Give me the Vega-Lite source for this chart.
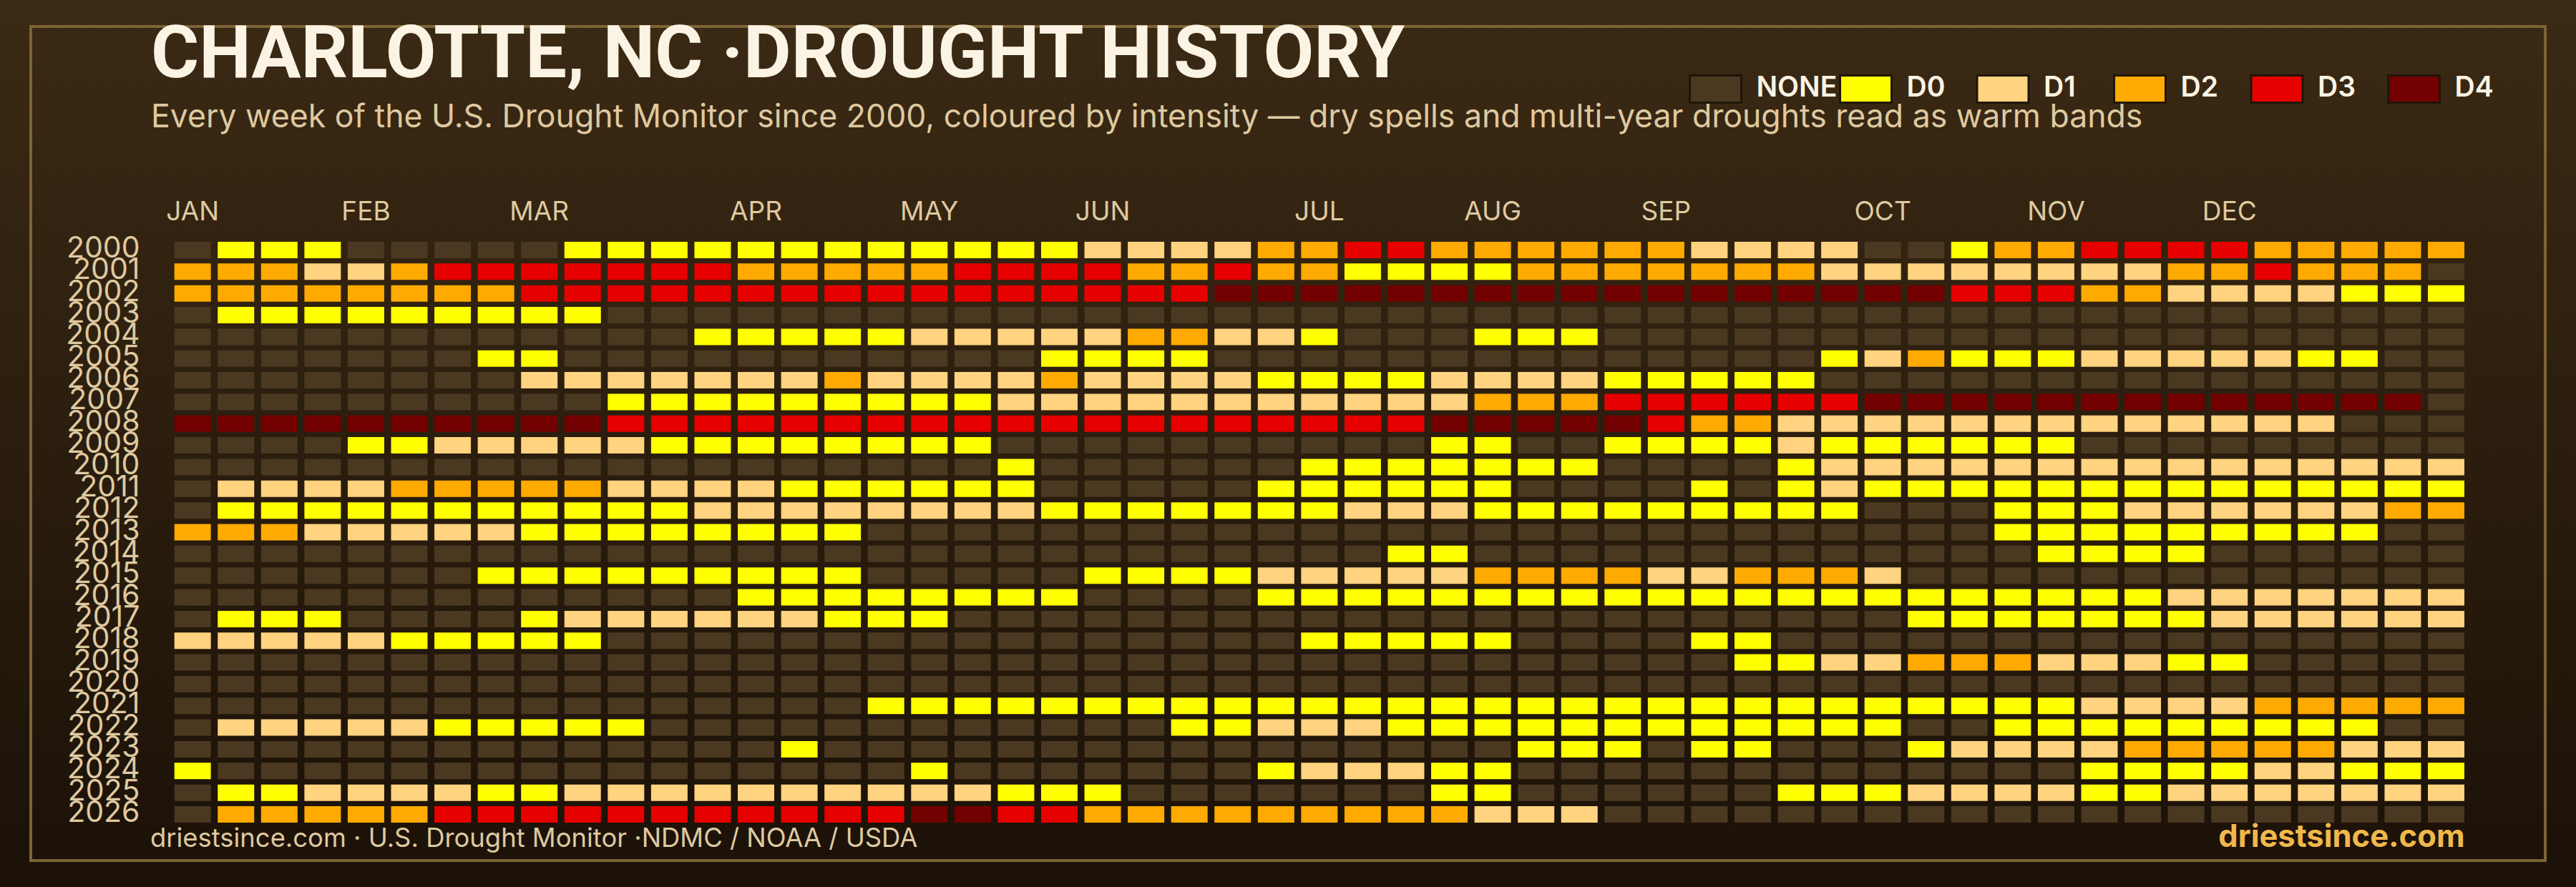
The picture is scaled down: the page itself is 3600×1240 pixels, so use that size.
{"$schema":"https://vega.github.io/schema/vega-lite/v6.json","width":3600,"height":1240,"padding":0,"autosize":{"type":"none"},"background":"#2a1d0e","view":{"stroke":null,"fill":{"gradient":"linear","x1":0,"y1":0,"x2":0,"y2":1,"stops":[{"offset":0,"color":"#3b2a14"},{"offset":1,"color":"#1b1108"}]}},"title":{"text":"CHARLOTTE, NC ·DROUGHT HISTORY","subtitle":"Every week of the U.S. Drought Monitor since 2000, coloured by intensity — dry spells and multi-year droughts read as warm bands","anchor":"start","frame":"group","dx":211,"offset":-188,"font":"Roboto","fontSize":102.7,"fontWeight":700,"color":"#fbf3e3","subtitleFont":"Inter","subtitleFontSize":44.6,"subtitleFontWeight":400,"subtitleColor":"#dfc9a0","subtitlePadding":14},"resolve":{"scale":{"x":"independent","y":"independent"}},"datasets":{"legendRows":[{"d":"NONE","i":0},{"d":"D0","i":1},{"d":"D1","i":2},{"d":"D2","i":3},{"d":"D3","i":4},{"d":"D4","i":5}]},"layer":[{"data":{"values":[{"part":"frame"}]},"mark":{"type":"rect","fill":null,"stroke":"#7d6434","strokeWidth":4},"encoding":{"x":{"datum":0,"type":"quantitative","scale":{"domain":[0,1],"range":[43,3557],"nice":false,"zero":false},"axis":null},"x2":{"datum":1},"y":{"datum":0,"type":"quantitative","scale":{"domain":[0,1],"range":[37,1203],"nice":false,"zero":false},"axis":null},"y2":{"datum":1}}},{"data":{"values":[
{"y":2000,"w":0,"d":"NONE"},{"y":2000,"w":1,"d":"D0"},{"y":2000,"w":2,"d":"D0"},{"y":2000,"w":3,"d":"D0"},{"y":2000,"w":4,"d":"NONE"},{"y":2000,"w":5,"d":"NONE"},{"y":2000,"w":6,"d":"NONE"},{"y":2000,"w":7,"d":"NONE"},{"y":2000,"w":8,"d":"NONE"},{"y":2000,"w":9,"d":"D0"},{"y":2000,"w":10,"d":"D0"},{"y":2000,"w":11,"d":"D0"},{"y":2000,"w":12,"d":"D0"},{"y":2000,"w":13,"d":"D0"},{"y":2000,"w":14,"d":"D0"},{"y":2000,"w":15,"d":"D0"},{"y":2000,"w":16,"d":"D0"},{"y":2000,"w":17,"d":"D0"},{"y":2000,"w":18,"d":"D0"},{"y":2000,"w":19,"d":"D0"},{"y":2000,"w":20,"d":"D0"},{"y":2000,"w":21,"d":"D1"},{"y":2000,"w":22,"d":"D1"},{"y":2000,"w":23,"d":"D1"},{"y":2000,"w":24,"d":"D1"},{"y":2000,"w":25,"d":"D2"},{"y":2000,"w":26,"d":"D2"},{"y":2000,"w":27,"d":"D3"},{"y":2000,"w":28,"d":"D3"},{"y":2000,"w":29,"d":"D2"},{"y":2000,"w":30,"d":"D2"},{"y":2000,"w":31,"d":"D2"},{"y":2000,"w":32,"d":"D2"},{"y":2000,"w":33,"d":"D2"},{"y":2000,"w":34,"d":"D2"},{"y":2000,"w":35,"d":"D1"},{"y":2000,"w":36,"d":"D1"},{"y":2000,"w":37,"d":"D1"},{"y":2000,"w":38,"d":"D1"},{"y":2000,"w":39,"d":"NONE"},{"y":2000,"w":40,"d":"NONE"},{"y":2000,"w":41,"d":"D0"},{"y":2000,"w":42,"d":"D2"},{"y":2000,"w":43,"d":"D2"},{"y":2000,"w":44,"d":"D3"},{"y":2000,"w":45,"d":"D3"},{"y":2000,"w":46,"d":"D3"},{"y":2000,"w":47,"d":"D3"},{"y":2000,"w":48,"d":"D2"},{"y":2000,"w":49,"d":"D2"},{"y":2000,"w":50,"d":"D2"},{"y":2000,"w":51,"d":"D2"},{"y":2000,"w":52,"d":"D2"},
{"y":2001,"w":0,"d":"D2"},{"y":2001,"w":1,"d":"D2"},{"y":2001,"w":2,"d":"D2"},{"y":2001,"w":3,"d":"D1"},{"y":2001,"w":4,"d":"D1"},{"y":2001,"w":5,"d":"D2"},{"y":2001,"w":6,"d":"D3"},{"y":2001,"w":7,"d":"D3"},{"y":2001,"w":8,"d":"D3"},{"y":2001,"w":9,"d":"D3"},{"y":2001,"w":10,"d":"D3"},{"y":2001,"w":11,"d":"D3"},{"y":2001,"w":12,"d":"D3"},{"y":2001,"w":13,"d":"D2"},{"y":2001,"w":14,"d":"D2"},{"y":2001,"w":15,"d":"D2"},{"y":2001,"w":16,"d":"D2"},{"y":2001,"w":17,"d":"D2"},{"y":2001,"w":18,"d":"D3"},{"y":2001,"w":19,"d":"D3"},{"y":2001,"w":20,"d":"D3"},{"y":2001,"w":21,"d":"D3"},{"y":2001,"w":22,"d":"D2"},{"y":2001,"w":23,"d":"D2"},{"y":2001,"w":24,"d":"D3"},{"y":2001,"w":25,"d":"D2"},{"y":2001,"w":26,"d":"D2"},{"y":2001,"w":27,"d":"D0"},{"y":2001,"w":28,"d":"D0"},{"y":2001,"w":29,"d":"D0"},{"y":2001,"w":30,"d":"D0"},{"y":2001,"w":31,"d":"D2"},{"y":2001,"w":32,"d":"D2"},{"y":2001,"w":33,"d":"D2"},{"y":2001,"w":34,"d":"D2"},{"y":2001,"w":35,"d":"D2"},{"y":2001,"w":36,"d":"D2"},{"y":2001,"w":37,"d":"D2"},{"y":2001,"w":38,"d":"D1"},{"y":2001,"w":39,"d":"D1"},{"y":2001,"w":40,"d":"D1"},{"y":2001,"w":41,"d":"D1"},{"y":2001,"w":42,"d":"D1"},{"y":2001,"w":43,"d":"D1"},{"y":2001,"w":44,"d":"D1"},{"y":2001,"w":45,"d":"D1"},{"y":2001,"w":46,"d":"D2"},{"y":2001,"w":47,"d":"D2"},{"y":2001,"w":48,"d":"D3"},{"y":2001,"w":49,"d":"D2"},{"y":2001,"w":50,"d":"D2"},{"y":2001,"w":51,"d":"D2"},{"y":2001,"w":52,"d":"NONE"},
{"y":2002,"w":0,"d":"D2"},{"y":2002,"w":1,"d":"D2"},{"y":2002,"w":2,"d":"D2"},{"y":2002,"w":3,"d":"D2"},{"y":2002,"w":4,"d":"D2"},{"y":2002,"w":5,"d":"D2"},{"y":2002,"w":6,"d":"D2"},{"y":2002,"w":7,"d":"D2"},{"y":2002,"w":8,"d":"D3"},{"y":2002,"w":9,"d":"D3"},{"y":2002,"w":10,"d":"D3"},{"y":2002,"w":11,"d":"D3"},{"y":2002,"w":12,"d":"D3"},{"y":2002,"w":13,"d":"D3"},{"y":2002,"w":14,"d":"D3"},{"y":2002,"w":15,"d":"D3"},{"y":2002,"w":16,"d":"D3"},{"y":2002,"w":17,"d":"D3"},{"y":2002,"w":18,"d":"D3"},{"y":2002,"w":19,"d":"D3"},{"y":2002,"w":20,"d":"D3"},{"y":2002,"w":21,"d":"D3"},{"y":2002,"w":22,"d":"D3"},{"y":2002,"w":23,"d":"D3"},{"y":2002,"w":24,"d":"D4"},{"y":2002,"w":25,"d":"D4"},{"y":2002,"w":26,"d":"D4"},{"y":2002,"w":27,"d":"D4"},{"y":2002,"w":28,"d":"D4"},{"y":2002,"w":29,"d":"D4"},{"y":2002,"w":30,"d":"D4"},{"y":2002,"w":31,"d":"D4"},{"y":2002,"w":32,"d":"D4"},{"y":2002,"w":33,"d":"D4"},{"y":2002,"w":34,"d":"D4"},{"y":2002,"w":35,"d":"D4"},{"y":2002,"w":36,"d":"D4"},{"y":2002,"w":37,"d":"D4"},{"y":2002,"w":38,"d":"D4"},{"y":2002,"w":39,"d":"D4"},{"y":2002,"w":40,"d":"D4"},{"y":2002,"w":41,"d":"D3"},{"y":2002,"w":42,"d":"D3"},{"y":2002,"w":43,"d":"D3"},{"y":2002,"w":44,"d":"D2"},{"y":2002,"w":45,"d":"D2"},{"y":2002,"w":46,"d":"D1"},{"y":2002,"w":47,"d":"D1"},{"y":2002,"w":48,"d":"D1"},{"y":2002,"w":49,"d":"D1"},{"y":2002,"w":50,"d":"D0"},{"y":2002,"w":51,"d":"D0"},{"y":2002,"w":52,"d":"D0"},
{"y":2003,"w":0,"d":"NONE"},{"y":2003,"w":1,"d":"D0"},{"y":2003,"w":2,"d":"D0"},{"y":2003,"w":3,"d":"D0"},{"y":2003,"w":4,"d":"D0"},{"y":2003,"w":5,"d":"D0"},{"y":2003,"w":6,"d":"D0"},{"y":2003,"w":7,"d":"D0"},{"y":2003,"w":8,"d":"D0"},{"y":2003,"w":9,"d":"D0"},{"y":2003,"w":10,"d":"NONE"},{"y":2003,"w":11,"d":"NONE"},{"y":2003,"w":12,"d":"NONE"},{"y":2003,"w":13,"d":"NONE"},{"y":2003,"w":14,"d":"NONE"},{"y":2003,"w":15,"d":"NONE"},{"y":2003,"w":16,"d":"NONE"},{"y":2003,"w":17,"d":"NONE"},{"y":2003,"w":18,"d":"NONE"},{"y":2003,"w":19,"d":"NONE"},{"y":2003,"w":20,"d":"NONE"},{"y":2003,"w":21,"d":"NONE"},{"y":2003,"w":22,"d":"NONE"},{"y":2003,"w":23,"d":"NONE"},{"y":2003,"w":24,"d":"NONE"},{"y":2003,"w":25,"d":"NONE"},{"y":2003,"w":26,"d":"NONE"},{"y":2003,"w":27,"d":"NONE"},{"y":2003,"w":28,"d":"NONE"},{"y":2003,"w":29,"d":"NONE"},{"y":2003,"w":30,"d":"NONE"},{"y":2003,"w":31,"d":"NONE"},{"y":2003,"w":32,"d":"NONE"},{"y":2003,"w":33,"d":"NONE"},{"y":2003,"w":34,"d":"NONE"},{"y":2003,"w":35,"d":"NONE"},{"y":2003,"w":36,"d":"NONE"},{"y":2003,"w":37,"d":"NONE"},{"y":2003,"w":38,"d":"NONE"},{"y":2003,"w":39,"d":"NONE"},{"y":2003,"w":40,"d":"NONE"},{"y":2003,"w":41,"d":"NONE"},{"y":2003,"w":42,"d":"NONE"},{"y":2003,"w":43,"d":"NONE"},{"y":2003,"w":44,"d":"NONE"},{"y":2003,"w":45,"d":"NONE"},{"y":2003,"w":46,"d":"NONE"},{"y":2003,"w":47,"d":"NONE"},{"y":2003,"w":48,"d":"NONE"},{"y":2003,"w":49,"d":"NONE"},{"y":2003,"w":50,"d":"NONE"},{"y":2003,"w":51,"d":"NONE"},{"y":2003,"w":52,"d":"NONE"},
{"y":2004,"w":0,"d":"NONE"},{"y":2004,"w":1,"d":"NONE"},{"y":2004,"w":2,"d":"NONE"},{"y":2004,"w":3,"d":"NONE"},{"y":2004,"w":4,"d":"NONE"},{"y":2004,"w":5,"d":"NONE"},{"y":2004,"w":6,"d":"NONE"},{"y":2004,"w":7,"d":"NONE"},{"y":2004,"w":8,"d":"NONE"},{"y":2004,"w":9,"d":"NONE"},{"y":2004,"w":10,"d":"NONE"},{"y":2004,"w":11,"d":"NONE"},{"y":2004,"w":12,"d":"D0"},{"y":2004,"w":13,"d":"D0"},{"y":2004,"w":14,"d":"D0"},{"y":2004,"w":15,"d":"D0"},{"y":2004,"w":16,"d":"D0"},{"y":2004,"w":17,"d":"D1"},{"y":2004,"w":18,"d":"D1"},{"y":2004,"w":19,"d":"D1"},{"y":2004,"w":20,"d":"D1"},{"y":2004,"w":21,"d":"D1"},{"y":2004,"w":22,"d":"D2"},{"y":2004,"w":23,"d":"D2"},{"y":2004,"w":24,"d":"D1"},{"y":2004,"w":25,"d":"D1"},{"y":2004,"w":26,"d":"D0"},{"y":2004,"w":27,"d":"NONE"},{"y":2004,"w":28,"d":"NONE"},{"y":2004,"w":29,"d":"NONE"},{"y":2004,"w":30,"d":"D0"},{"y":2004,"w":31,"d":"D0"},{"y":2004,"w":32,"d":"D0"},{"y":2004,"w":33,"d":"NONE"},{"y":2004,"w":34,"d":"NONE"},{"y":2004,"w":35,"d":"NONE"},{"y":2004,"w":36,"d":"NONE"},{"y":2004,"w":37,"d":"NONE"},{"y":2004,"w":38,"d":"NONE"},{"y":2004,"w":39,"d":"NONE"},{"y":2004,"w":40,"d":"NONE"},{"y":2004,"w":41,"d":"NONE"},{"y":2004,"w":42,"d":"NONE"},{"y":2004,"w":43,"d":"NONE"},{"y":2004,"w":44,"d":"NONE"},{"y":2004,"w":45,"d":"NONE"},{"y":2004,"w":46,"d":"NONE"},{"y":2004,"w":47,"d":"NONE"},{"y":2004,"w":48,"d":"NONE"},{"y":2004,"w":49,"d":"NONE"},{"y":2004,"w":50,"d":"NONE"},{"y":2004,"w":51,"d":"NONE"},{"y":2004,"w":52,"d":"NONE"},
{"y":2005,"w":0,"d":"NONE"},{"y":2005,"w":1,"d":"NONE"},{"y":2005,"w":2,"d":"NONE"},{"y":2005,"w":3,"d":"NONE"},{"y":2005,"w":4,"d":"NONE"},{"y":2005,"w":5,"d":"NONE"},{"y":2005,"w":6,"d":"NONE"},{"y":2005,"w":7,"d":"D0"},{"y":2005,"w":8,"d":"D0"},{"y":2005,"w":9,"d":"NONE"},{"y":2005,"w":10,"d":"NONE"},{"y":2005,"w":11,"d":"NONE"},{"y":2005,"w":12,"d":"NONE"},{"y":2005,"w":13,"d":"NONE"},{"y":2005,"w":14,"d":"NONE"},{"y":2005,"w":15,"d":"NONE"},{"y":2005,"w":16,"d":"NONE"},{"y":2005,"w":17,"d":"NONE"},{"y":2005,"w":18,"d":"NONE"},{"y":2005,"w":19,"d":"NONE"},{"y":2005,"w":20,"d":"D0"},{"y":2005,"w":21,"d":"D0"},{"y":2005,"w":22,"d":"D0"},{"y":2005,"w":23,"d":"D0"},{"y":2005,"w":24,"d":"NONE"},{"y":2005,"w":25,"d":"NONE"},{"y":2005,"w":26,"d":"NONE"},{"y":2005,"w":27,"d":"NONE"},{"y":2005,"w":28,"d":"NONE"},{"y":2005,"w":29,"d":"NONE"},{"y":2005,"w":30,"d":"NONE"},{"y":2005,"w":31,"d":"NONE"},{"y":2005,"w":32,"d":"NONE"},{"y":2005,"w":33,"d":"NONE"},{"y":2005,"w":34,"d":"NONE"},{"y":2005,"w":35,"d":"NONE"},{"y":2005,"w":36,"d":"NONE"},{"y":2005,"w":37,"d":"NONE"},{"y":2005,"w":38,"d":"D0"},{"y":2005,"w":39,"d":"D1"},{"y":2005,"w":40,"d":"D2"},{"y":2005,"w":41,"d":"D0"},{"y":2005,"w":42,"d":"D0"},{"y":2005,"w":43,"d":"D0"},{"y":2005,"w":44,"d":"D1"},{"y":2005,"w":45,"d":"D1"},{"y":2005,"w":46,"d":"D1"},{"y":2005,"w":47,"d":"D1"},{"y":2005,"w":48,"d":"D1"},{"y":2005,"w":49,"d":"D0"},{"y":2005,"w":50,"d":"D0"},{"y":2005,"w":51,"d":"NONE"},{"y":2005,"w":52,"d":"NONE"},
{"y":2006,"w":0,"d":"NONE"},{"y":2006,"w":1,"d":"NONE"},{"y":2006,"w":2,"d":"NONE"},{"y":2006,"w":3,"d":"NONE"},{"y":2006,"w":4,"d":"NONE"},{"y":2006,"w":5,"d":"NONE"},{"y":2006,"w":6,"d":"NONE"},{"y":2006,"w":7,"d":"NONE"},{"y":2006,"w":8,"d":"D1"},{"y":2006,"w":9,"d":"D1"},{"y":2006,"w":10,"d":"D1"},{"y":2006,"w":11,"d":"D1"},{"y":2006,"w":12,"d":"D1"},{"y":2006,"w":13,"d":"D1"},{"y":2006,"w":14,"d":"D1"},{"y":2006,"w":15,"d":"D2"},{"y":2006,"w":16,"d":"D1"},{"y":2006,"w":17,"d":"D1"},{"y":2006,"w":18,"d":"D1"},{"y":2006,"w":19,"d":"D1"},{"y":2006,"w":20,"d":"D2"},{"y":2006,"w":21,"d":"D1"},{"y":2006,"w":22,"d":"D1"},{"y":2006,"w":23,"d":"D1"},{"y":2006,"w":24,"d":"D1"},{"y":2006,"w":25,"d":"D0"},{"y":2006,"w":26,"d":"D0"},{"y":2006,"w":27,"d":"D0"},{"y":2006,"w":28,"d":"D0"},{"y":2006,"w":29,"d":"D1"},{"y":2006,"w":30,"d":"D1"},{"y":2006,"w":31,"d":"D1"},{"y":2006,"w":32,"d":"D1"},{"y":2006,"w":33,"d":"D0"},{"y":2006,"w":34,"d":"D0"},{"y":2006,"w":35,"d":"D0"},{"y":2006,"w":36,"d":"D0"},{"y":2006,"w":37,"d":"D0"},{"y":2006,"w":38,"d":"NONE"},{"y":2006,"w":39,"d":"NONE"},{"y":2006,"w":40,"d":"NONE"},{"y":2006,"w":41,"d":"NONE"},{"y":2006,"w":42,"d":"NONE"},{"y":2006,"w":43,"d":"NONE"},{"y":2006,"w":44,"d":"NONE"},{"y":2006,"w":45,"d":"NONE"},{"y":2006,"w":46,"d":"NONE"},{"y":2006,"w":47,"d":"NONE"},{"y":2006,"w":48,"d":"NONE"},{"y":2006,"w":49,"d":"NONE"},{"y":2006,"w":50,"d":"NONE"},{"y":2006,"w":51,"d":"NONE"},{"y":2006,"w":52,"d":"NONE"},
{"y":2007,"w":0,"d":"NONE"},{"y":2007,"w":1,"d":"NONE"},{"y":2007,"w":2,"d":"NONE"},{"y":2007,"w":3,"d":"NONE"},{"y":2007,"w":4,"d":"NONE"},{"y":2007,"w":5,"d":"NONE"},{"y":2007,"w":6,"d":"NONE"},{"y":2007,"w":7,"d":"NONE"},{"y":2007,"w":8,"d":"NONE"},{"y":2007,"w":9,"d":"NONE"},{"y":2007,"w":10,"d":"D0"},{"y":2007,"w":11,"d":"D0"},{"y":2007,"w":12,"d":"D0"},{"y":2007,"w":13,"d":"D0"},{"y":2007,"w":14,"d":"D0"},{"y":2007,"w":15,"d":"D0"},{"y":2007,"w":16,"d":"D0"},{"y":2007,"w":17,"d":"D0"},{"y":2007,"w":18,"d":"D0"},{"y":2007,"w":19,"d":"D1"},{"y":2007,"w":20,"d":"D1"},{"y":2007,"w":21,"d":"D1"},{"y":2007,"w":22,"d":"D1"},{"y":2007,"w":23,"d":"D1"},{"y":2007,"w":24,"d":"D1"},{"y":2007,"w":25,"d":"D1"},{"y":2007,"w":26,"d":"D1"},{"y":2007,"w":27,"d":"D1"},{"y":2007,"w":28,"d":"D1"},{"y":2007,"w":29,"d":"D1"},{"y":2007,"w":30,"d":"D2"},{"y":2007,"w":31,"d":"D2"},{"y":2007,"w":32,"d":"D2"},{"y":2007,"w":33,"d":"D3"},{"y":2007,"w":34,"d":"D3"},{"y":2007,"w":35,"d":"D3"},{"y":2007,"w":36,"d":"D3"},{"y":2007,"w":37,"d":"D3"},{"y":2007,"w":38,"d":"D3"},{"y":2007,"w":39,"d":"D4"},{"y":2007,"w":40,"d":"D4"},{"y":2007,"w":41,"d":"D4"},{"y":2007,"w":42,"d":"D4"},{"y":2007,"w":43,"d":"D4"},{"y":2007,"w":44,"d":"D4"},{"y":2007,"w":45,"d":"D4"},{"y":2007,"w":46,"d":"D4"},{"y":2007,"w":47,"d":"D4"},{"y":2007,"w":48,"d":"D4"},{"y":2007,"w":49,"d":"D4"},{"y":2007,"w":50,"d":"D4"},{"y":2007,"w":51,"d":"D4"},{"y":2007,"w":52,"d":"NONE"},
{"y":2008,"w":0,"d":"D4"},{"y":2008,"w":1,"d":"D4"},{"y":2008,"w":2,"d":"D4"},{"y":2008,"w":3,"d":"D4"},{"y":2008,"w":4,"d":"D4"},{"y":2008,"w":5,"d":"D4"},{"y":2008,"w":6,"d":"D4"},{"y":2008,"w":7,"d":"D4"},{"y":2008,"w":8,"d":"D4"},{"y":2008,"w":9,"d":"D4"},{"y":2008,"w":10,"d":"D3"},{"y":2008,"w":11,"d":"D3"},{"y":2008,"w":12,"d":"D3"},{"y":2008,"w":13,"d":"D3"},{"y":2008,"w":14,"d":"D3"},{"y":2008,"w":15,"d":"D3"},{"y":2008,"w":16,"d":"D3"},{"y":2008,"w":17,"d":"D3"},{"y":2008,"w":18,"d":"D3"},{"y":2008,"w":19,"d":"D3"},{"y":2008,"w":20,"d":"D3"},{"y":2008,"w":21,"d":"D3"},{"y":2008,"w":22,"d":"D3"},{"y":2008,"w":23,"d":"D3"},{"y":2008,"w":24,"d":"D3"},{"y":2008,"w":25,"d":"D3"},{"y":2008,"w":26,"d":"D3"},{"y":2008,"w":27,"d":"D3"},{"y":2008,"w":28,"d":"D3"},{"y":2008,"w":29,"d":"D4"},{"y":2008,"w":30,"d":"D4"},{"y":2008,"w":31,"d":"D4"},{"y":2008,"w":32,"d":"D4"},{"y":2008,"w":33,"d":"D4"},{"y":2008,"w":34,"d":"D3"},{"y":2008,"w":35,"d":"D2"},{"y":2008,"w":36,"d":"D2"},{"y":2008,"w":37,"d":"D1"},{"y":2008,"w":38,"d":"D1"},{"y":2008,"w":39,"d":"D1"},{"y":2008,"w":40,"d":"D1"},{"y":2008,"w":41,"d":"D1"},{"y":2008,"w":42,"d":"D1"},{"y":2008,"w":43,"d":"D1"},{"y":2008,"w":44,"d":"D1"},{"y":2008,"w":45,"d":"D1"},{"y":2008,"w":46,"d":"D1"},{"y":2008,"w":47,"d":"D1"},{"y":2008,"w":48,"d":"D1"},{"y":2008,"w":49,"d":"D1"},{"y":2008,"w":50,"d":"NONE"},{"y":2008,"w":51,"d":"NONE"},{"y":2008,"w":52,"d":"NONE"},
{"y":2009,"w":0,"d":"NONE"},{"y":2009,"w":1,"d":"NONE"},{"y":2009,"w":2,"d":"NONE"},{"y":2009,"w":3,"d":"NONE"},{"y":2009,"w":4,"d":"D0"},{"y":2009,"w":5,"d":"D0"},{"y":2009,"w":6,"d":"D1"},{"y":2009,"w":7,"d":"D1"},{"y":2009,"w":8,"d":"D1"},{"y":2009,"w":9,"d":"D1"},{"y":2009,"w":10,"d":"D1"},{"y":2009,"w":11,"d":"D0"},{"y":2009,"w":12,"d":"D0"},{"y":2009,"w":13,"d":"D0"},{"y":2009,"w":14,"d":"D0"},{"y":2009,"w":15,"d":"D0"},{"y":2009,"w":16,"d":"D0"},{"y":2009,"w":17,"d":"D0"},{"y":2009,"w":18,"d":"D0"},{"y":2009,"w":19,"d":"NONE"},{"y":2009,"w":20,"d":"NONE"},{"y":2009,"w":21,"d":"NONE"},{"y":2009,"w":22,"d":"NONE"},{"y":2009,"w":23,"d":"NONE"},{"y":2009,"w":24,"d":"NONE"},{"y":2009,"w":25,"d":"NONE"},{"y":2009,"w":26,"d":"NONE"},{"y":2009,"w":27,"d":"NONE"},{"y":2009,"w":28,"d":"NONE"},{"y":2009,"w":29,"d":"D0"},{"y":2009,"w":30,"d":"D0"},{"y":2009,"w":31,"d":"NONE"},{"y":2009,"w":32,"d":"NONE"},{"y":2009,"w":33,"d":"D0"},{"y":2009,"w":34,"d":"D0"},{"y":2009,"w":35,"d":"D0"},{"y":2009,"w":36,"d":"D0"},{"y":2009,"w":37,"d":"D1"},{"y":2009,"w":38,"d":"D0"},{"y":2009,"w":39,"d":"D0"},{"y":2009,"w":40,"d":"D0"},{"y":2009,"w":41,"d":"D0"},{"y":2009,"w":42,"d":"D0"},{"y":2009,"w":43,"d":"D0"},{"y":2009,"w":44,"d":"NONE"},{"y":2009,"w":45,"d":"NONE"},{"y":2009,"w":46,"d":"NONE"},{"y":2009,"w":47,"d":"NONE"},{"y":2009,"w":48,"d":"NONE"},{"y":2009,"w":49,"d":"NONE"},{"y":2009,"w":50,"d":"NONE"},{"y":2009,"w":51,"d":"NONE"},{"y":2009,"w":52,"d":"NONE"},
{"y":2010,"w":0,"d":"NONE"},{"y":2010,"w":1,"d":"NONE"},{"y":2010,"w":2,"d":"NONE"},{"y":2010,"w":3,"d":"NONE"},{"y":2010,"w":4,"d":"NONE"},{"y":2010,"w":5,"d":"NONE"},{"y":2010,"w":6,"d":"NONE"},{"y":2010,"w":7,"d":"NONE"},{"y":2010,"w":8,"d":"NONE"},{"y":2010,"w":9,"d":"NONE"},{"y":2010,"w":10,"d":"NONE"},{"y":2010,"w":11,"d":"NONE"},{"y":2010,"w":12,"d":"NONE"},{"y":2010,"w":13,"d":"NONE"},{"y":2010,"w":14,"d":"NONE"},{"y":2010,"w":15,"d":"NONE"},{"y":2010,"w":16,"d":"NONE"},{"y":2010,"w":17,"d":"NONE"},{"y":2010,"w":18,"d":"NONE"},{"y":2010,"w":19,"d":"D0"},{"y":2010,"w":20,"d":"NONE"},{"y":2010,"w":21,"d":"NONE"},{"y":2010,"w":22,"d":"NONE"},{"y":2010,"w":23,"d":"NONE"},{"y":2010,"w":24,"d":"NONE"},{"y":2010,"w":25,"d":"NONE"},{"y":2010,"w":26,"d":"D0"},{"y":2010,"w":27,"d":"D0"},{"y":2010,"w":28,"d":"D0"},{"y":2010,"w":29,"d":"D0"},{"y":2010,"w":30,"d":"D0"},{"y":2010,"w":31,"d":"D0"},{"y":2010,"w":32,"d":"D0"},{"y":2010,"w":33,"d":"NONE"},{"y":2010,"w":34,"d":"NONE"},{"y":2010,"w":35,"d":"NONE"},{"y":2010,"w":36,"d":"NONE"},{"y":2010,"w":37,"d":"D0"},{"y":2010,"w":38,"d":"D1"},{"y":2010,"w":39,"d":"D1"},{"y":2010,"w":40,"d":"D1"},{"y":2010,"w":41,"d":"D1"},{"y":2010,"w":42,"d":"D1"},{"y":2010,"w":43,"d":"D1"},{"y":2010,"w":44,"d":"D1"},{"y":2010,"w":45,"d":"D1"},{"y":2010,"w":46,"d":"D1"},{"y":2010,"w":47,"d":"D1"},{"y":2010,"w":48,"d":"D1"},{"y":2010,"w":49,"d":"D1"},{"y":2010,"w":50,"d":"D1"},{"y":2010,"w":51,"d":"D1"},{"y":2010,"w":52,"d":"D1"},
{"y":2011,"w":0,"d":"NONE"},{"y":2011,"w":1,"d":"D1"},{"y":2011,"w":2,"d":"D1"},{"y":2011,"w":3,"d":"D1"},{"y":2011,"w":4,"d":"D1"},{"y":2011,"w":5,"d":"D2"},{"y":2011,"w":6,"d":"D2"},{"y":2011,"w":7,"d":"D2"},{"y":2011,"w":8,"d":"D2"},{"y":2011,"w":9,"d":"D2"},{"y":2011,"w":10,"d":"D1"},{"y":2011,"w":11,"d":"D1"},{"y":2011,"w":12,"d":"D1"},{"y":2011,"w":13,"d":"D1"},{"y":2011,"w":14,"d":"D0"},{"y":2011,"w":15,"d":"D0"},{"y":2011,"w":16,"d":"D0"},{"y":2011,"w":17,"d":"D0"},{"y":2011,"w":18,"d":"D0"},{"y":2011,"w":19,"d":"D0"},{"y":2011,"w":20,"d":"NONE"},{"y":2011,"w":21,"d":"NONE"},{"y":2011,"w":22,"d":"NONE"},{"y":2011,"w":23,"d":"NONE"},{"y":2011,"w":24,"d":"NONE"},{"y":2011,"w":25,"d":"D0"},{"y":2011,"w":26,"d":"D0"},{"y":2011,"w":27,"d":"D0"},{"y":2011,"w":28,"d":"D0"},{"y":2011,"w":29,"d":"D0"},{"y":2011,"w":30,"d":"D0"},{"y":2011,"w":31,"d":"NONE"},{"y":2011,"w":32,"d":"NONE"},{"y":2011,"w":33,"d":"NONE"},{"y":2011,"w":34,"d":"NONE"},{"y":2011,"w":35,"d":"D0"},{"y":2011,"w":36,"d":"NONE"},{"y":2011,"w":37,"d":"D0"},{"y":2011,"w":38,"d":"D1"},{"y":2011,"w":39,"d":"D0"},{"y":2011,"w":40,"d":"D0"},{"y":2011,"w":41,"d":"D0"},{"y":2011,"w":42,"d":"D0"},{"y":2011,"w":43,"d":"D0"},{"y":2011,"w":44,"d":"D0"},{"y":2011,"w":45,"d":"D0"},{"y":2011,"w":46,"d":"D0"},{"y":2011,"w":47,"d":"D0"},{"y":2011,"w":48,"d":"D0"},{"y":2011,"w":49,"d":"D0"},{"y":2011,"w":50,"d":"D0"},{"y":2011,"w":51,"d":"D0"},{"y":2011,"w":52,"d":"D0"},
{"y":2012,"w":0,"d":"NONE"},{"y":2012,"w":1,"d":"D0"},{"y":2012,"w":2,"d":"D0"},{"y":2012,"w":3,"d":"D0"},{"y":2012,"w":4,"d":"D0"},{"y":2012,"w":5,"d":"D0"},{"y":2012,"w":6,"d":"D0"},{"y":2012,"w":7,"d":"D0"},{"y":2012,"w":8,"d":"D0"},{"y":2012,"w":9,"d":"D0"},{"y":2012,"w":10,"d":"D0"},{"y":2012,"w":11,"d":"D0"},{"y":2012,"w":12,"d":"D1"},{"y":2012,"w":13,"d":"D1"},{"y":2012,"w":14,"d":"D1"},{"y":2012,"w":15,"d":"D1"},{"y":2012,"w":16,"d":"D1"},{"y":2012,"w":17,"d":"D1"},{"y":2012,"w":18,"d":"D1"},{"y":2012,"w":19,"d":"D1"},{"y":2012,"w":20,"d":"D0"},{"y":2012,"w":21,"d":"D0"},{"y":2012,"w":22,"d":"D0"},{"y":2012,"w":23,"d":"D0"},{"y":2012,"w":24,"d":"D0"},{"y":2012,"w":25,"d":"D0"},{"y":2012,"w":26,"d":"D0"},{"y":2012,"w":27,"d":"D1"},{"y":2012,"w":28,"d":"D1"},{"y":2012,"w":29,"d":"D1"},{"y":2012,"w":30,"d":"D0"},{"y":2012,"w":31,"d":"D0"},{"y":2012,"w":32,"d":"D0"},{"y":2012,"w":33,"d":"D0"},{"y":2012,"w":34,"d":"D0"},{"y":2012,"w":35,"d":"D0"},{"y":2012,"w":36,"d":"D0"},{"y":2012,"w":37,"d":"D0"},{"y":2012,"w":38,"d":"D0"},{"y":2012,"w":39,"d":"NONE"},{"y":2012,"w":40,"d":"NONE"},{"y":2012,"w":41,"d":"NONE"},{"y":2012,"w":42,"d":"D0"},{"y":2012,"w":43,"d":"D0"},{"y":2012,"w":44,"d":"D0"},{"y":2012,"w":45,"d":"D1"},{"y":2012,"w":46,"d":"D1"},{"y":2012,"w":47,"d":"D1"},{"y":2012,"w":48,"d":"D1"},{"y":2012,"w":49,"d":"D1"},{"y":2012,"w":50,"d":"D1"},{"y":2012,"w":51,"d":"D2"},{"y":2012,"w":52,"d":"D2"},
{"y":2013,"w":0,"d":"D2"},{"y":2013,"w":1,"d":"D2"},{"y":2013,"w":2,"d":"D2"},{"y":2013,"w":3,"d":"D1"},{"y":2013,"w":4,"d":"D1"},{"y":2013,"w":5,"d":"D1"},{"y":2013,"w":6,"d":"D1"},{"y":2013,"w":7,"d":"D1"},{"y":2013,"w":8,"d":"D0"},{"y":2013,"w":9,"d":"D0"},{"y":2013,"w":10,"d":"D0"},{"y":2013,"w":11,"d":"D0"},{"y":2013,"w":12,"d":"D0"},{"y":2013,"w":13,"d":"D0"},{"y":2013,"w":14,"d":"D0"},{"y":2013,"w":15,"d":"D0"},{"y":2013,"w":16,"d":"NONE"},{"y":2013,"w":17,"d":"NONE"},{"y":2013,"w":18,"d":"NONE"},{"y":2013,"w":19,"d":"NONE"},{"y":2013,"w":20,"d":"NONE"},{"y":2013,"w":21,"d":"NONE"},{"y":2013,"w":22,"d":"NONE"},{"y":2013,"w":23,"d":"NONE"},{"y":2013,"w":24,"d":"NONE"},{"y":2013,"w":25,"d":"NONE"},{"y":2013,"w":26,"d":"NONE"},{"y":2013,"w":27,"d":"NONE"},{"y":2013,"w":28,"d":"NONE"},{"y":2013,"w":29,"d":"NONE"},{"y":2013,"w":30,"d":"NONE"},{"y":2013,"w":31,"d":"NONE"},{"y":2013,"w":32,"d":"NONE"},{"y":2013,"w":33,"d":"NONE"},{"y":2013,"w":34,"d":"NONE"},{"y":2013,"w":35,"d":"NONE"},{"y":2013,"w":36,"d":"NONE"},{"y":2013,"w":37,"d":"NONE"},{"y":2013,"w":38,"d":"NONE"},{"y":2013,"w":39,"d":"NONE"},{"y":2013,"w":40,"d":"NONE"},{"y":2013,"w":41,"d":"NONE"},{"y":2013,"w":42,"d":"D0"},{"y":2013,"w":43,"d":"D0"},{"y":2013,"w":44,"d":"D0"},{"y":2013,"w":45,"d":"D0"},{"y":2013,"w":46,"d":"D0"},{"y":2013,"w":47,"d":"D0"},{"y":2013,"w":48,"d":"D0"},{"y":2013,"w":49,"d":"D0"},{"y":2013,"w":50,"d":"D0"},{"y":2013,"w":51,"d":"NONE"},{"y":2013,"w":52,"d":"NONE"},
{"y":2014,"w":0,"d":"NONE"},{"y":2014,"w":1,"d":"NONE"},{"y":2014,"w":2,"d":"NONE"},{"y":2014,"w":3,"d":"NONE"},{"y":2014,"w":4,"d":"NONE"},{"y":2014,"w":5,"d":"NONE"},{"y":2014,"w":6,"d":"NONE"},{"y":2014,"w":7,"d":"NONE"},{"y":2014,"w":8,"d":"NONE"},{"y":2014,"w":9,"d":"NONE"},{"y":2014,"w":10,"d":"NONE"},{"y":2014,"w":11,"d":"NONE"},{"y":2014,"w":12,"d":"NONE"},{"y":2014,"w":13,"d":"NONE"},{"y":2014,"w":14,"d":"NONE"},{"y":2014,"w":15,"d":"NONE"},{"y":2014,"w":16,"d":"NONE"},{"y":2014,"w":17,"d":"NONE"},{"y":2014,"w":18,"d":"NONE"},{"y":2014,"w":19,"d":"NONE"},{"y":2014,"w":20,"d":"NONE"},{"y":2014,"w":21,"d":"NONE"},{"y":2014,"w":22,"d":"NONE"},{"y":2014,"w":23,"d":"NONE"},{"y":2014,"w":24,"d":"NONE"},{"y":2014,"w":25,"d":"NONE"},{"y":2014,"w":26,"d":"NONE"},{"y":2014,"w":27,"d":"NONE"},{"y":2014,"w":28,"d":"D0"},{"y":2014,"w":29,"d":"D0"},{"y":2014,"w":30,"d":"NONE"},{"y":2014,"w":31,"d":"NONE"},{"y":2014,"w":32,"d":"NONE"},{"y":2014,"w":33,"d":"NONE"},{"y":2014,"w":34,"d":"NONE"},{"y":2014,"w":35,"d":"NONE"},{"y":2014,"w":36,"d":"NONE"},{"y":2014,"w":37,"d":"NONE"},{"y":2014,"w":38,"d":"NONE"},{"y":2014,"w":39,"d":"NONE"},{"y":2014,"w":40,"d":"NONE"},{"y":2014,"w":41,"d":"NONE"},{"y":2014,"w":42,"d":"NONE"},{"y":2014,"w":43,"d":"D0"},{"y":2014,"w":44,"d":"D0"},{"y":2014,"w":45,"d":"D0"},{"y":2014,"w":46,"d":"D0"},{"y":2014,"w":47,"d":"NONE"},{"y":2014,"w":48,"d":"NONE"},{"y":2014,"w":49,"d":"NONE"},{"y":2014,"w":50,"d":"NONE"},{"y":2014,"w":51,"d":"NONE"},{"y":2014,"w":52,"d":"NONE"},
{"y":2015,"w":0,"d":"NONE"},{"y":2015,"w":1,"d":"NONE"},{"y":2015,"w":2,"d":"NONE"},{"y":2015,"w":3,"d":"NONE"},{"y":2015,"w":4,"d":"NONE"},{"y":2015,"w":5,"d":"NONE"},{"y":2015,"w":6,"d":"NONE"},{"y":2015,"w":7,"d":"D0"},{"y":2015,"w":8,"d":"D0"},{"y":2015,"w":9,"d":"D0"},{"y":2015,"w":10,"d":"D0"},{"y":2015,"w":11,"d":"D0"},{"y":2015,"w":12,"d":"D0"},{"y":2015,"w":13,"d":"D0"},{"y":2015,"w":14,"d":"D0"},{"y":2015,"w":15,"d":"D0"},{"y":2015,"w":16,"d":"NONE"},{"y":2015,"w":17,"d":"NONE"},{"y":2015,"w":18,"d":"NONE"},{"y":2015,"w":19,"d":"NONE"},{"y":2015,"w":20,"d":"NONE"},{"y":2015,"w":21,"d":"D0"},{"y":2015,"w":22,"d":"D0"},{"y":2015,"w":23,"d":"D0"},{"y":2015,"w":24,"d":"D0"},{"y":2015,"w":25,"d":"D1"},{"y":2015,"w":26,"d":"D1"},{"y":2015,"w":27,"d":"D1"},{"y":2015,"w":28,"d":"D1"},{"y":2015,"w":29,"d":"D1"},{"y":2015,"w":30,"d":"D2"},{"y":2015,"w":31,"d":"D2"},{"y":2015,"w":32,"d":"D2"},{"y":2015,"w":33,"d":"D2"},{"y":2015,"w":34,"d":"D1"},{"y":2015,"w":35,"d":"D1"},{"y":2015,"w":36,"d":"D2"},{"y":2015,"w":37,"d":"D2"},{"y":2015,"w":38,"d":"D2"},{"y":2015,"w":39,"d":"D1"},{"y":2015,"w":40,"d":"NONE"},{"y":2015,"w":41,"d":"NONE"},{"y":2015,"w":42,"d":"NONE"},{"y":2015,"w":43,"d":"NONE"},{"y":2015,"w":44,"d":"NONE"},{"y":2015,"w":45,"d":"NONE"},{"y":2015,"w":46,"d":"NONE"},{"y":2015,"w":47,"d":"NONE"},{"y":2015,"w":48,"d":"NONE"},{"y":2015,"w":49,"d":"NONE"},{"y":2015,"w":50,"d":"NONE"},{"y":2015,"w":51,"d":"NONE"},{"y":2015,"w":52,"d":"NONE"},
{"y":2016,"w":0,"d":"NONE"},{"y":2016,"w":1,"d":"NONE"},{"y":2016,"w":2,"d":"NONE"},{"y":2016,"w":3,"d":"NONE"},{"y":2016,"w":4,"d":"NONE"},{"y":2016,"w":5,"d":"NONE"},{"y":2016,"w":6,"d":"NONE"},{"y":2016,"w":7,"d":"NONE"},{"y":2016,"w":8,"d":"NONE"},{"y":2016,"w":9,"d":"NONE"},{"y":2016,"w":10,"d":"NONE"},{"y":2016,"w":11,"d":"NONE"},{"y":2016,"w":12,"d":"NONE"},{"y":2016,"w":13,"d":"D0"},{"y":2016,"w":14,"d":"D0"},{"y":2016,"w":15,"d":"D0"},{"y":2016,"w":16,"d":"D0"},{"y":2016,"w":17,"d":"D0"},{"y":2016,"w":18,"d":"D0"},{"y":2016,"w":19,"d":"D0"},{"y":2016,"w":20,"d":"D0"},{"y":2016,"w":21,"d":"NONE"},{"y":2016,"w":22,"d":"NONE"},{"y":2016,"w":23,"d":"NONE"},{"y":2016,"w":24,"d":"NONE"},{"y":2016,"w":25,"d":"D0"},{"y":2016,"w":26,"d":"D0"},{"y":2016,"w":27,"d":"D0"},{"y":2016,"w":28,"d":"D0"},{"y":2016,"w":29,"d":"D0"},{"y":2016,"w":30,"d":"D0"},{"y":2016,"w":31,"d":"D0"},{"y":2016,"w":32,"d":"D0"},{"y":2016,"w":33,"d":"D0"},{"y":2016,"w":34,"d":"D0"},{"y":2016,"w":35,"d":"D0"},{"y":2016,"w":36,"d":"D0"},{"y":2016,"w":37,"d":"D0"},{"y":2016,"w":38,"d":"D0"},{"y":2016,"w":39,"d":"D0"},{"y":2016,"w":40,"d":"D0"},{"y":2016,"w":41,"d":"D0"},{"y":2016,"w":42,"d":"D0"},{"y":2016,"w":43,"d":"D0"},{"y":2016,"w":44,"d":"D0"},{"y":2016,"w":45,"d":"D0"},{"y":2016,"w":46,"d":"D1"},{"y":2016,"w":47,"d":"D1"},{"y":2016,"w":48,"d":"D1"},{"y":2016,"w":49,"d":"D1"},{"y":2016,"w":50,"d":"D1"},{"y":2016,"w":51,"d":"D1"},{"y":2016,"w":52,"d":"D1"},
{"y":2017,"w":0,"d":"NONE"},{"y":2017,"w":1,"d":"D0"},{"y":2017,"w":2,"d":"D0"},{"y":2017,"w":3,"d":"D0"},{"y":2017,"w":4,"d":"NONE"},{"y":2017,"w":5,"d":"NONE"},{"y":2017,"w":6,"d":"NONE"},{"y":2017,"w":7,"d":"NONE"},{"y":2017,"w":8,"d":"D0"},{"y":2017,"w":9,"d":"D1"},{"y":2017,"w":10,"d":"D1"},{"y":2017,"w":11,"d":"D1"},{"y":2017,"w":12,"d":"D1"},{"y":2017,"w":13,"d":"D1"},{"y":2017,"w":14,"d":"D1"},{"y":2017,"w":15,"d":"D0"},{"y":2017,"w":16,"d":"D0"},{"y":2017,"w":17,"d":"D0"},{"y":2017,"w":18,"d":"NONE"},{"y":2017,"w":19,"d":"NONE"},{"y":2017,"w":20,"d":"NONE"},{"y":2017,"w":21,"d":"NONE"},{"y":2017,"w":22,"d":"NONE"},{"y":2017,"w":23,"d":"NONE"},{"y":2017,"w":24,"d":"NONE"},{"y":2017,"w":25,"d":"NONE"},{"y":2017,"w":26,"d":"NONE"},{"y":2017,"w":27,"d":"NONE"},{"y":2017,"w":28,"d":"NONE"},{"y":2017,"w":29,"d":"NONE"},{"y":2017,"w":30,"d":"NONE"},{"y":2017,"w":31,"d":"NONE"},{"y":2017,"w":32,"d":"NONE"},{"y":2017,"w":33,"d":"NONE"},{"y":2017,"w":34,"d":"NONE"},{"y":2017,"w":35,"d":"NONE"},{"y":2017,"w":36,"d":"NONE"},{"y":2017,"w":37,"d":"NONE"},{"y":2017,"w":38,"d":"NONE"},{"y":2017,"w":39,"d":"NONE"},{"y":2017,"w":40,"d":"D0"},{"y":2017,"w":41,"d":"D0"},{"y":2017,"w":42,"d":"D0"},{"y":2017,"w":43,"d":"D0"},{"y":2017,"w":44,"d":"D0"},{"y":2017,"w":45,"d":"D0"},{"y":2017,"w":46,"d":"D0"},{"y":2017,"w":47,"d":"D1"},{"y":2017,"w":48,"d":"D1"},{"y":2017,"w":49,"d":"D1"},{"y":2017,"w":50,"d":"D1"},{"y":2017,"w":51,"d":"D1"},{"y":2017,"w":52,"d":"D1"},
{"y":2018,"w":0,"d":"D1"},{"y":2018,"w":1,"d":"D1"},{"y":2018,"w":2,"d":"D1"},{"y":2018,"w":3,"d":"D1"},{"y":2018,"w":4,"d":"D1"},{"y":2018,"w":5,"d":"D0"},{"y":2018,"w":6,"d":"D0"},{"y":2018,"w":7,"d":"D0"},{"y":2018,"w":8,"d":"D0"},{"y":2018,"w":9,"d":"D0"},{"y":2018,"w":10,"d":"NONE"},{"y":2018,"w":11,"d":"NONE"},{"y":2018,"w":12,"d":"NONE"},{"y":2018,"w":13,"d":"NONE"},{"y":2018,"w":14,"d":"NONE"},{"y":2018,"w":15,"d":"NONE"},{"y":2018,"w":16,"d":"NONE"},{"y":2018,"w":17,"d":"NONE"},{"y":2018,"w":18,"d":"NONE"},{"y":2018,"w":19,"d":"NONE"},{"y":2018,"w":20,"d":"NONE"},{"y":2018,"w":21,"d":"NONE"},{"y":2018,"w":22,"d":"NONE"},{"y":2018,"w":23,"d":"NONE"},{"y":2018,"w":24,"d":"NONE"},{"y":2018,"w":25,"d":"NONE"},{"y":2018,"w":26,"d":"D0"},{"y":2018,"w":27,"d":"D0"},{"y":2018,"w":28,"d":"D0"},{"y":2018,"w":29,"d":"D0"},{"y":2018,"w":30,"d":"D0"},{"y":2018,"w":31,"d":"NONE"},{"y":2018,"w":32,"d":"NONE"},{"y":2018,"w":33,"d":"NONE"},{"y":2018,"w":34,"d":"NONE"},{"y":2018,"w":35,"d":"D0"},{"y":2018,"w":36,"d":"D0"},{"y":2018,"w":37,"d":"NONE"},{"y":2018,"w":38,"d":"NONE"},{"y":2018,"w":39,"d":"NONE"},{"y":2018,"w":40,"d":"NONE"},{"y":2018,"w":41,"d":"NONE"},{"y":2018,"w":42,"d":"NONE"},{"y":2018,"w":43,"d":"NONE"},{"y":2018,"w":44,"d":"NONE"},{"y":2018,"w":45,"d":"NONE"},{"y":2018,"w":46,"d":"NONE"},{"y":2018,"w":47,"d":"NONE"},{"y":2018,"w":48,"d":"NONE"},{"y":2018,"w":49,"d":"NONE"},{"y":2018,"w":50,"d":"NONE"},{"y":2018,"w":51,"d":"NONE"},{"y":2018,"w":52,"d":"NONE"},
{"y":2019,"w":0,"d":"NONE"},{"y":2019,"w":1,"d":"NONE"},{"y":2019,"w":2,"d":"NONE"},{"y":2019,"w":3,"d":"NONE"},{"y":2019,"w":4,"d":"NONE"},{"y":2019,"w":5,"d":"NONE"},{"y":2019,"w":6,"d":"NONE"},{"y":2019,"w":7,"d":"NONE"},{"y":2019,"w":8,"d":"NONE"},{"y":2019,"w":9,"d":"NONE"},{"y":2019,"w":10,"d":"NONE"},{"y":2019,"w":11,"d":"NONE"},{"y":2019,"w":12,"d":"NONE"},{"y":2019,"w":13,"d":"NONE"},{"y":2019,"w":14,"d":"NONE"},{"y":2019,"w":15,"d":"NONE"},{"y":2019,"w":16,"d":"NONE"},{"y":2019,"w":17,"d":"NONE"},{"y":2019,"w":18,"d":"NONE"},{"y":2019,"w":19,"d":"NONE"},{"y":2019,"w":20,"d":"NONE"},{"y":2019,"w":21,"d":"NONE"},{"y":2019,"w":22,"d":"NONE"},{"y":2019,"w":23,"d":"NONE"},{"y":2019,"w":24,"d":"NONE"},{"y":2019,"w":25,"d":"NONE"},{"y":2019,"w":26,"d":"NONE"},{"y":2019,"w":27,"d":"NONE"},{"y":2019,"w":28,"d":"NONE"},{"y":2019,"w":29,"d":"NONE"},{"y":2019,"w":30,"d":"NONE"},{"y":2019,"w":31,"d":"NONE"},{"y":2019,"w":32,"d":"NONE"},{"y":2019,"w":33,"d":"NONE"},{"y":2019,"w":34,"d":"NONE"},{"y":2019,"w":35,"d":"NONE"},{"y":2019,"w":36,"d":"D0"},{"y":2019,"w":37,"d":"D0"},{"y":2019,"w":38,"d":"D1"},{"y":2019,"w":39,"d":"D1"},{"y":2019,"w":40,"d":"D2"},{"y":2019,"w":41,"d":"D2"},{"y":2019,"w":42,"d":"D2"},{"y":2019,"w":43,"d":"D1"},{"y":2019,"w":44,"d":"D1"},{"y":2019,"w":45,"d":"D1"},{"y":2019,"w":46,"d":"D0"},{"y":2019,"w":47,"d":"D0"},{"y":2019,"w":48,"d":"NONE"},{"y":2019,"w":49,"d":"NONE"},{"y":2019,"w":50,"d":"NONE"},{"y":2019,"w":51,"d":"NONE"},{"y":2019,"w":52,"d":"NONE"},
{"y":2020,"w":0,"d":"NONE"},{"y":2020,"w":1,"d":"NONE"},{"y":2020,"w":2,"d":"NONE"},{"y":2020,"w":3,"d":"NONE"},{"y":2020,"w":4,"d":"NONE"},{"y":2020,"w":5,"d":"NONE"},{"y":2020,"w":6,"d":"NONE"},{"y":2020,"w":7,"d":"NONE"},{"y":2020,"w":8,"d":"NONE"},{"y":2020,"w":9,"d":"NONE"},{"y":2020,"w":10,"d":"NONE"},{"y":2020,"w":11,"d":"NONE"},{"y":2020,"w":12,"d":"NONE"},{"y":2020,"w":13,"d":"NONE"},{"y":2020,"w":14,"d":"NONE"},{"y":2020,"w":15,"d":"NONE"},{"y":2020,"w":16,"d":"NONE"},{"y":2020,"w":17,"d":"NONE"},{"y":2020,"w":18,"d":"NONE"},{"y":2020,"w":19,"d":"NONE"},{"y":2020,"w":20,"d":"NONE"},{"y":2020,"w":21,"d":"NONE"},{"y":2020,"w":22,"d":"NONE"},{"y":2020,"w":23,"d":"NONE"},{"y":2020,"w":24,"d":"NONE"},{"y":2020,"w":25,"d":"NONE"},{"y":2020,"w":26,"d":"NONE"},{"y":2020,"w":27,"d":"NONE"},{"y":2020,"w":28,"d":"NONE"},{"y":2020,"w":29,"d":"NONE"},{"y":2020,"w":30,"d":"NONE"},{"y":2020,"w":31,"d":"NONE"},{"y":2020,"w":32,"d":"NONE"},{"y":2020,"w":33,"d":"NONE"},{"y":2020,"w":34,"d":"NONE"},{"y":2020,"w":35,"d":"NONE"},{"y":2020,"w":36,"d":"NONE"},{"y":2020,"w":37,"d":"NONE"},{"y":2020,"w":38,"d":"NONE"},{"y":2020,"w":39,"d":"NONE"},{"y":2020,"w":40,"d":"NONE"},{"y":2020,"w":41,"d":"NONE"},{"y":2020,"w":42,"d":"NONE"},{"y":2020,"w":43,"d":"NONE"},{"y":2020,"w":44,"d":"NONE"},{"y":2020,"w":45,"d":"NONE"},{"y":2020,"w":46,"d":"NONE"},{"y":2020,"w":47,"d":"NONE"},{"y":2020,"w":48,"d":"NONE"},{"y":2020,"w":49,"d":"NONE"},{"y":2020,"w":50,"d":"NONE"},{"y":2020,"w":51,"d":"NONE"},{"y":2020,"w":52,"d":"NONE"},
{"y":2021,"w":0,"d":"NONE"},{"y":2021,"w":1,"d":"NONE"},{"y":2021,"w":2,"d":"NONE"},{"y":2021,"w":3,"d":"NONE"},{"y":2021,"w":4,"d":"NONE"},{"y":2021,"w":5,"d":"NONE"},{"y":2021,"w":6,"d":"NONE"},{"y":2021,"w":7,"d":"NONE"},{"y":2021,"w":8,"d":"NONE"},{"y":2021,"w":9,"d":"NONE"},{"y":2021,"w":10,"d":"NONE"},{"y":2021,"w":11,"d":"NONE"},{"y":2021,"w":12,"d":"NONE"},{"y":2021,"w":13,"d":"NONE"},{"y":2021,"w":14,"d":"NONE"},{"y":2021,"w":15,"d":"NONE"},{"y":2021,"w":16,"d":"D0"},{"y":2021,"w":17,"d":"D0"},{"y":2021,"w":18,"d":"D0"},{"y":2021,"w":19,"d":"D0"},{"y":2021,"w":20,"d":"D0"},{"y":2021,"w":21,"d":"D0"},{"y":2021,"w":22,"d":"D0"},{"y":2021,"w":23,"d":"D0"},{"y":2021,"w":24,"d":"D0"},{"y":2021,"w":25,"d":"D0"},{"y":2021,"w":26,"d":"D0"},{"y":2021,"w":27,"d":"D0"},{"y":2021,"w":28,"d":"D0"},{"y":2021,"w":29,"d":"D0"},{"y":2021,"w":30,"d":"D0"},{"y":2021,"w":31,"d":"D0"},{"y":2021,"w":32,"d":"D0"},{"y":2021,"w":33,"d":"D0"},{"y":2021,"w":34,"d":"D0"},{"y":2021,"w":35,"d":"D0"},{"y":2021,"w":36,"d":"D0"},{"y":2021,"w":37,"d":"D0"},{"y":2021,"w":38,"d":"D0"},{"y":2021,"w":39,"d":"D0"},{"y":2021,"w":40,"d":"D0"},{"y":2021,"w":41,"d":"D0"},{"y":2021,"w":42,"d":"D0"},{"y":2021,"w":43,"d":"D0"},{"y":2021,"w":44,"d":"D1"},{"y":2021,"w":45,"d":"D1"},{"y":2021,"w":46,"d":"D1"},{"y":2021,"w":47,"d":"D1"},{"y":2021,"w":48,"d":"D2"},{"y":2021,"w":49,"d":"D2"},{"y":2021,"w":50,"d":"D2"},{"y":2021,"w":51,"d":"D2"},{"y":2021,"w":52,"d":"D2"},
{"y":2022,"w":0,"d":"NONE"},{"y":2022,"w":1,"d":"D1"},{"y":2022,"w":2,"d":"D1"},{"y":2022,"w":3,"d":"D1"},{"y":2022,"w":4,"d":"D1"},{"y":2022,"w":5,"d":"D1"},{"y":2022,"w":6,"d":"D0"},{"y":2022,"w":7,"d":"D0"},{"y":2022,"w":8,"d":"D0"},{"y":2022,"w":9,"d":"D0"},{"y":2022,"w":10,"d":"D0"},{"y":2022,"w":11,"d":"NONE"},{"y":2022,"w":12,"d":"NONE"},{"y":2022,"w":13,"d":"NONE"},{"y":2022,"w":14,"d":"NONE"},{"y":2022,"w":15,"d":"NONE"},{"y":2022,"w":16,"d":"NONE"},{"y":2022,"w":17,"d":"NONE"},{"y":2022,"w":18,"d":"NONE"},{"y":2022,"w":19,"d":"NONE"},{"y":2022,"w":20,"d":"NONE"},{"y":2022,"w":21,"d":"NONE"},{"y":2022,"w":22,"d":"NONE"},{"y":2022,"w":23,"d":"D0"},{"y":2022,"w":24,"d":"D0"},{"y":2022,"w":25,"d":"D1"},{"y":2022,"w":26,"d":"D1"},{"y":2022,"w":27,"d":"D1"},{"y":2022,"w":28,"d":"D0"},{"y":2022,"w":29,"d":"D0"},{"y":2022,"w":30,"d":"D0"},{"y":2022,"w":31,"d":"D0"},{"y":2022,"w":32,"d":"D0"},{"y":2022,"w":33,"d":"D0"},{"y":2022,"w":34,"d":"D0"},{"y":2022,"w":35,"d":"D0"},{"y":2022,"w":36,"d":"D0"},{"y":2022,"w":37,"d":"D0"},{"y":2022,"w":38,"d":"D0"},{"y":2022,"w":39,"d":"D0"},{"y":2022,"w":40,"d":"NONE"},{"y":2022,"w":41,"d":"NONE"},{"y":2022,"w":42,"d":"D0"},{"y":2022,"w":43,"d":"D0"},{"y":2022,"w":44,"d":"D0"},{"y":2022,"w":45,"d":"D0"},{"y":2022,"w":46,"d":"D0"},{"y":2022,"w":47,"d":"D0"},{"y":2022,"w":48,"d":"D0"},{"y":2022,"w":49,"d":"D0"},{"y":2022,"w":50,"d":"D0"},{"y":2022,"w":51,"d":"NONE"},{"y":2022,"w":52,"d":"NONE"},
{"y":2023,"w":0,"d":"NONE"},{"y":2023,"w":1,"d":"NONE"},{"y":2023,"w":2,"d":"NONE"},{"y":2023,"w":3,"d":"NONE"},{"y":2023,"w":4,"d":"NONE"},{"y":2023,"w":5,"d":"NONE"},{"y":2023,"w":6,"d":"NONE"},{"y":2023,"w":7,"d":"NONE"},{"y":2023,"w":8,"d":"NONE"},{"y":2023,"w":9,"d":"NONE"},{"y":2023,"w":10,"d":"NONE"},{"y":2023,"w":11,"d":"NONE"},{"y":2023,"w":12,"d":"NONE"},{"y":2023,"w":13,"d":"NONE"},{"y":2023,"w":14,"d":"D0"},{"y":2023,"w":15,"d":"NONE"},{"y":2023,"w":16,"d":"NONE"},{"y":2023,"w":17,"d":"NONE"},{"y":2023,"w":18,"d":"NONE"},{"y":2023,"w":19,"d":"NONE"},{"y":2023,"w":20,"d":"NONE"},{"y":2023,"w":21,"d":"NONE"},{"y":2023,"w":22,"d":"NONE"},{"y":2023,"w":23,"d":"NONE"},{"y":2023,"w":24,"d":"NONE"},{"y":2023,"w":25,"d":"NONE"},{"y":2023,"w":26,"d":"NONE"},{"y":2023,"w":27,"d":"NONE"},{"y":2023,"w":28,"d":"NONE"},{"y":2023,"w":29,"d":"NONE"},{"y":2023,"w":30,"d":"NONE"},{"y":2023,"w":31,"d":"D0"},{"y":2023,"w":32,"d":"D0"},{"y":2023,"w":33,"d":"D0"},{"y":2023,"w":34,"d":"NONE"},{"y":2023,"w":35,"d":"D0"},{"y":2023,"w":36,"d":"D0"},{"y":2023,"w":37,"d":"NONE"},{"y":2023,"w":38,"d":"NONE"},{"y":2023,"w":39,"d":"NONE"},{"y":2023,"w":40,"d":"D0"},{"y":2023,"w":41,"d":"D1"},{"y":2023,"w":42,"d":"D1"},{"y":2023,"w":43,"d":"D1"},{"y":2023,"w":44,"d":"D1"},{"y":2023,"w":45,"d":"D2"},{"y":2023,"w":46,"d":"D2"},{"y":2023,"w":47,"d":"D2"},{"y":2023,"w":48,"d":"D2"},{"y":2023,"w":49,"d":"D2"},{"y":2023,"w":50,"d":"D1"},{"y":2023,"w":51,"d":"D1"},{"y":2023,"w":52,"d":"D1"},
{"y":2024,"w":0,"d":"D0"},{"y":2024,"w":1,"d":"NONE"},{"y":2024,"w":2,"d":"NONE"},{"y":2024,"w":3,"d":"NONE"},{"y":2024,"w":4,"d":"NONE"},{"y":2024,"w":5,"d":"NONE"},{"y":2024,"w":6,"d":"NONE"},{"y":2024,"w":7,"d":"NONE"},{"y":2024,"w":8,"d":"NONE"},{"y":2024,"w":9,"d":"NONE"},{"y":2024,"w":10,"d":"NONE"},{"y":2024,"w":11,"d":"NONE"},{"y":2024,"w":12,"d":"NONE"},{"y":2024,"w":13,"d":"NONE"},{"y":2024,"w":14,"d":"NONE"},{"y":2024,"w":15,"d":"NONE"},{"y":2024,"w":16,"d":"NONE"},{"y":2024,"w":17,"d":"D0"},{"y":2024,"w":18,"d":"NONE"},{"y":2024,"w":19,"d":"NONE"},{"y":2024,"w":20,"d":"NONE"},{"y":2024,"w":21,"d":"NONE"},{"y":2024,"w":22,"d":"NONE"},{"y":2024,"w":23,"d":"NONE"},{"y":2024,"w":24,"d":"NONE"},{"y":2024,"w":25,"d":"D0"},{"y":2024,"w":26,"d":"D1"},{"y":2024,"w":27,"d":"D1"},{"y":2024,"w":28,"d":"D1"},{"y":2024,"w":29,"d":"D0"},{"y":2024,"w":30,"d":"D0"},{"y":2024,"w":31,"d":"NONE"},{"y":2024,"w":32,"d":"NONE"},{"y":2024,"w":33,"d":"NONE"},{"y":2024,"w":34,"d":"NONE"},{"y":2024,"w":35,"d":"NONE"},{"y":2024,"w":36,"d":"NONE"},{"y":2024,"w":37,"d":"NONE"},{"y":2024,"w":38,"d":"NONE"},{"y":2024,"w":39,"d":"NONE"},{"y":2024,"w":40,"d":"NONE"},{"y":2024,"w":41,"d":"NONE"},{"y":2024,"w":42,"d":"NONE"},{"y":2024,"w":43,"d":"NONE"},{"y":2024,"w":44,"d":"D0"},{"y":2024,"w":45,"d":"D0"},{"y":2024,"w":46,"d":"D0"},{"y":2024,"w":47,"d":"D0"},{"y":2024,"w":48,"d":"D1"},{"y":2024,"w":49,"d":"D1"},{"y":2024,"w":50,"d":"D0"},{"y":2024,"w":51,"d":"D0"},{"y":2024,"w":52,"d":"D0"},
{"y":2025,"w":0,"d":"NONE"},{"y":2025,"w":1,"d":"D0"},{"y":2025,"w":2,"d":"D0"},{"y":2025,"w":3,"d":"D1"},{"y":2025,"w":4,"d":"D1"},{"y":2025,"w":5,"d":"D1"},{"y":2025,"w":6,"d":"D1"},{"y":2025,"w":7,"d":"D0"},{"y":2025,"w":8,"d":"D0"},{"y":2025,"w":9,"d":"D1"},{"y":2025,"w":10,"d":"D1"},{"y":2025,"w":11,"d":"D1"},{"y":2025,"w":12,"d":"D1"},{"y":2025,"w":13,"d":"D1"},{"y":2025,"w":14,"d":"D1"},{"y":2025,"w":15,"d":"D1"},{"y":2025,"w":16,"d":"D1"},{"y":2025,"w":17,"d":"D1"},{"y":2025,"w":18,"d":"D1"},{"y":2025,"w":19,"d":"D0"},{"y":2025,"w":20,"d":"D0"},{"y":2025,"w":21,"d":"D0"},{"y":2025,"w":22,"d":"NONE"},{"y":2025,"w":23,"d":"NONE"},{"y":2025,"w":24,"d":"NONE"},{"y":2025,"w":25,"d":"NONE"},{"y":2025,"w":26,"d":"NONE"},{"y":2025,"w":27,"d":"NONE"},{"y":2025,"w":28,"d":"NONE"},{"y":2025,"w":29,"d":"D0"},{"y":2025,"w":30,"d":"D0"},{"y":2025,"w":31,"d":"NONE"},{"y":2025,"w":32,"d":"NONE"},{"y":2025,"w":33,"d":"NONE"},{"y":2025,"w":34,"d":"NONE"},{"y":2025,"w":35,"d":"NONE"},{"y":2025,"w":36,"d":"NONE"},{"y":2025,"w":37,"d":"D0"},{"y":2025,"w":38,"d":"D0"},{"y":2025,"w":39,"d":"D0"},{"y":2025,"w":40,"d":"D1"},{"y":2025,"w":41,"d":"D1"},{"y":2025,"w":42,"d":"D1"},{"y":2025,"w":43,"d":"D1"},{"y":2025,"w":44,"d":"D0"},{"y":2025,"w":45,"d":"D0"},{"y":2025,"w":46,"d":"D1"},{"y":2025,"w":47,"d":"D1"},{"y":2025,"w":48,"d":"D1"},{"y":2025,"w":49,"d":"D1"},{"y":2025,"w":50,"d":"D1"},{"y":2025,"w":51,"d":"D1"},{"y":2025,"w":52,"d":"D1"},
{"y":2026,"w":0,"d":"NONE"},{"y":2026,"w":1,"d":"D2"},{"y":2026,"w":2,"d":"D2"},{"y":2026,"w":3,"d":"D2"},{"y":2026,"w":4,"d":"D2"},{"y":2026,"w":5,"d":"D2"},{"y":2026,"w":6,"d":"D3"},{"y":2026,"w":7,"d":"D3"},{"y":2026,"w":8,"d":"D3"},{"y":2026,"w":9,"d":"D3"},{"y":2026,"w":10,"d":"D3"},{"y":2026,"w":11,"d":"D3"},{"y":2026,"w":12,"d":"D3"},{"y":2026,"w":13,"d":"D3"},{"y":2026,"w":14,"d":"D3"},{"y":2026,"w":15,"d":"D3"},{"y":2026,"w":16,"d":"D3"},{"y":2026,"w":17,"d":"D4"},{"y":2026,"w":18,"d":"D4"},{"y":2026,"w":19,"d":"D3"},{"y":2026,"w":20,"d":"D3"},{"y":2026,"w":21,"d":"D2"},{"y":2026,"w":22,"d":"D2"},{"y":2026,"w":23,"d":"D2"},{"y":2026,"w":24,"d":"D2"},{"y":2026,"w":25,"d":"D2"},{"y":2026,"w":26,"d":"D2"},{"y":2026,"w":27,"d":"D2"},{"y":2026,"w":28,"d":"D2"},{"y":2026,"w":29,"d":"D2"},{"y":2026,"w":30,"d":"D1"},{"y":2026,"w":31,"d":"D1"},{"y":2026,"w":32,"d":"D1"},{"y":2026,"w":33,"d":"NONE"},{"y":2026,"w":34,"d":"NONE"},{"y":2026,"w":35,"d":"NONE"},{"y":2026,"w":36,"d":"NONE"},{"y":2026,"w":37,"d":"NONE"},{"y":2026,"w":38,"d":"NONE"},{"y":2026,"w":39,"d":"NONE"},{"y":2026,"w":40,"d":"NONE"},{"y":2026,"w":41,"d":"NONE"},{"y":2026,"w":42,"d":"NONE"},{"y":2026,"w":43,"d":"NONE"},{"y":2026,"w":44,"d":"NONE"},{"y":2026,"w":45,"d":"NONE"},{"y":2026,"w":46,"d":"NONE"},{"y":2026,"w":47,"d":"NONE"},{"y":2026,"w":48,"d":"NONE"},{"y":2026,"w":49,"d":"NONE"},{"y":2026,"w":50,"d":"NONE"},{"y":2026,"w":51,"d":"NONE"},{"y":2026,"w":52,"d":"NONE"}
]},"mark":{"type":"rect"},"encoding":{"x":{"field":"w","type":"ordinal","scale":{"type":"band","range":[243.7,3444],"paddingInner":0.158,"paddingOuter":0},"axis":{"orient":"top","title":null,"offset":-307,"domain":false,"ticks":false,"grid":false,"labelPadding":0,"labelAngle":0,"labelAlign":"center","labelBaseline":"alphabetic","labelFont":"Inter","labelFontSize":37,"labelFontWeight":400,"labelColor":"#dfc9a0","labelOverlap":false,"labelBound":false,"values":[0,4,8,13,17,21,26,30,34,39,43,47],"labelExpr":"{'0':'JAN','4':'FEB','8':'MAR','13':'APR','17':'MAY','21':'JUN','26':'JUL','30':'AUG','34':'SEP','39':'OCT','43':'NOV','47':'DEC'}[datum.value]"}},"y":{"field":"y","type":"ordinal","scale":{"type":"band","range":[338,1150],"paddingInner":0.242,"paddingOuter":0},"axis":{"orient":"left","title":null,"offset":-195,"domain":false,"ticks":false,"grid":false,"labelPadding":0,"labelAlign":"right","labelBaseline":"alphabetic","labelOffset":10.5,"labelFont":"Inter","labelFontSize":41,"labelColor":"#dfc9a0","labelOverlap":false,"labelBound":false}},"color":{"field":"d","type":"nominal","scale":{"domain":["NONE","D0","D1","D2","D3","D4"],"range":["#4a3820","#ffff00","#ffd37f","#ffaa00","#e60000","#730000"]},"legend":null}}},{"data":{"name":"legendRows"},"mark":{"type":"rect","width":72,"height":38,"stroke":"#201508","strokeWidth":3},"encoding":{"x":{"field":"i","type":"quantitative","scale":{"domain":[0,1,5],"range":[2397.5,2607.5,3373.5],"nice":false,"zero":false},"axis":null},"y":{"datum":0.07504,"type":"quantitative","scale":{"domain":[0,1],"range":[37,1203],"nice":false,"zero":false},"axis":null},"color":{"field":"d","type":"nominal","legend":null}}},{"data":{"name":"legendRows"},"mark":{"type":"text","align":"left","baseline":"alphabetic","dx":57,"font":"Inter","fontSize":39,"fontWeight":600,"color":"#fbf3e3"},"encoding":{"x":{"field":"i","type":"quantitative","scale":{"domain":[0,1,5],"range":[2397.5,2607.5,3373.5],"nice":false,"zero":false},"axis":null},"y":{"datum":0.08405,"type":"quantitative","scale":{"domain":[0,1],"range":[37,1203],"nice":false,"zero":false},"axis":null},"text":{"field":"d"}}},{"data":{"values":[{"t":"driestsince.com  · U.S. Drought Monitor ·NDMC / NOAA / USDA"}]},"mark":{"type":"text","align":"left","baseline":"alphabetic","font":"Inter","fontSize":36.4,"color":"#dfc9a0"},"encoding":{"x":{"datum":0.04752,"type":"quantitative","scale":{"domain":[0,1],"range":[43,3557],"nice":false,"zero":false},"axis":null},"y":{"datum":0.98371,"type":"quantitative","scale":{"domain":[0,1],"range":[37,1203],"nice":false,"zero":false},"axis":null},"text":{"field":"t"}}},{"data":{"values":[{"t":"driestsince.com"}]},"mark":{"type":"text","align":"right","baseline":"alphabetic","font":"Inter","fontSize":43.5,"fontWeight":700,"color":"#f0b84c"},"encoding":{"x":{"datum":0.96801,"type":"quantitative","scale":{"domain":[0,1],"range":[43,3557],"nice":false,"zero":false},"axis":null},"y":{"datum":0.98371,"type":"quantitative","scale":{"domain":[0,1],"range":[37,1203],"nice":false,"zero":false},"axis":null},"text":{"field":"t"}}}]}
